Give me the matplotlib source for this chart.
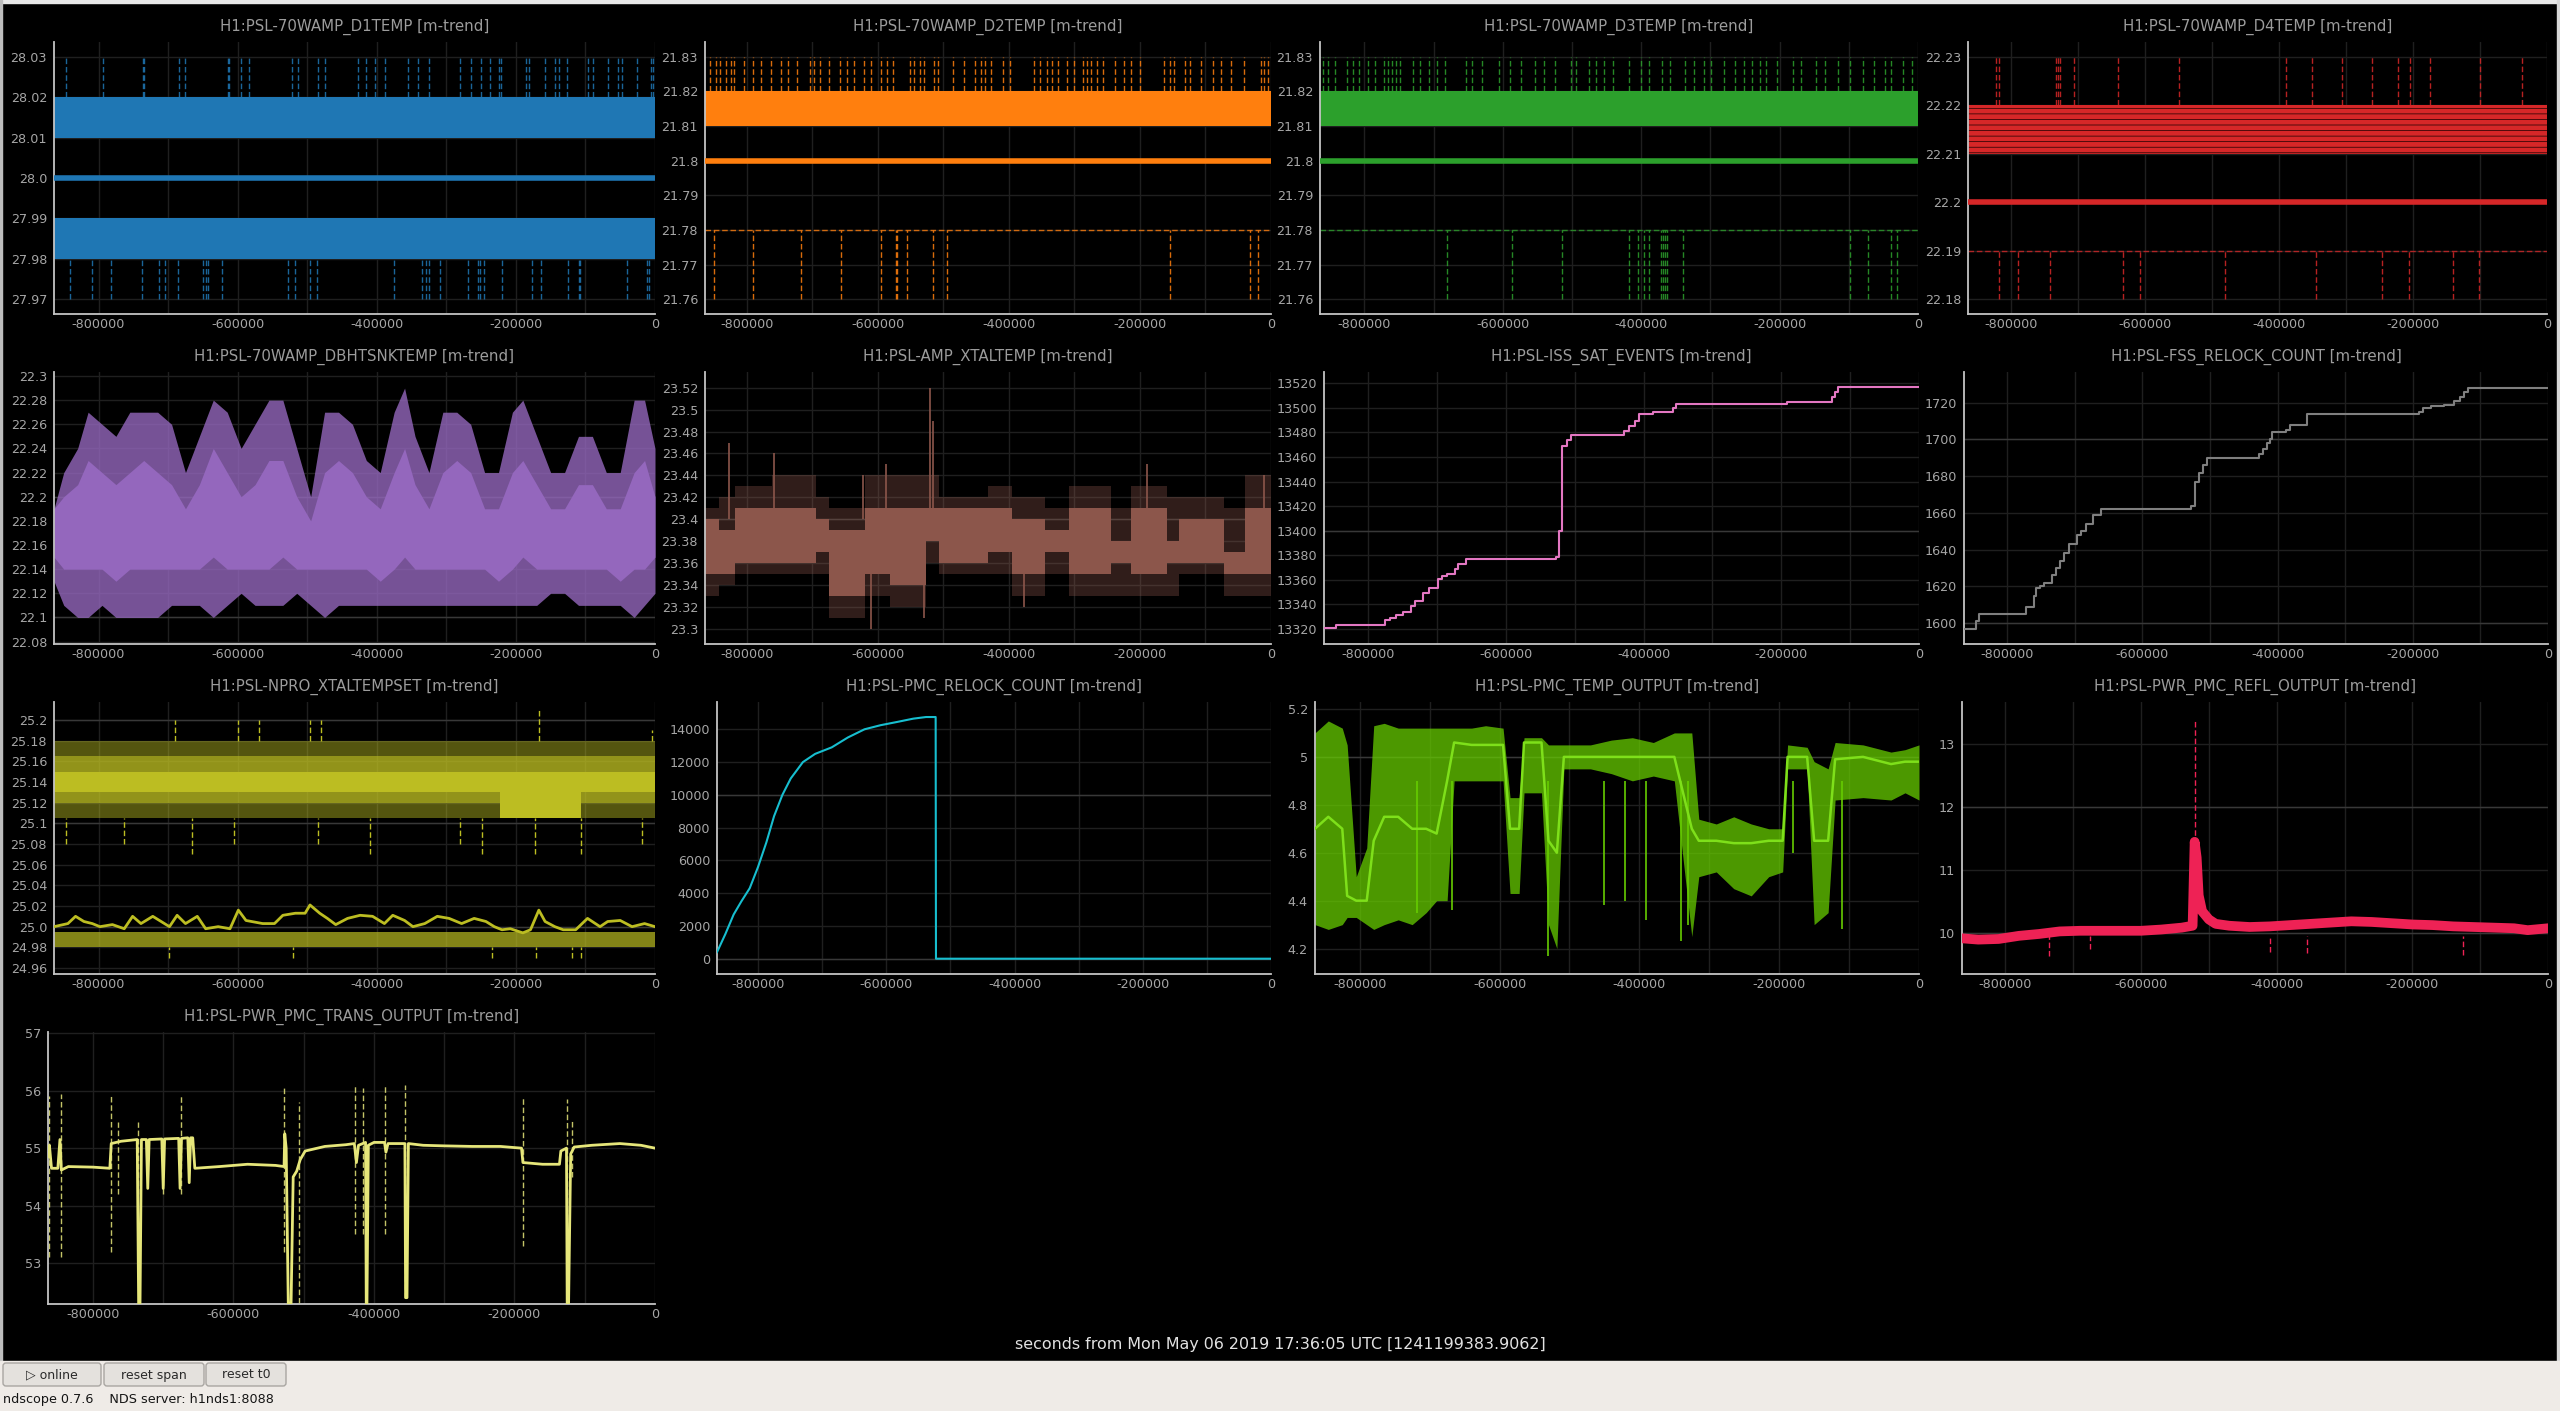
import numpy as np
import matplotlib
matplotlib.use("Agg")
import matplotlib.pyplot as plt
from matplotlib.patches import Rectangle, FancyBboxPatch

W, H = 2560, 1411

# ---- shared time axis (seconds from t0) ----
XLIM = (-864000, 0)
XTICKS = [-800000, -600000, -400000, -200000, 0]
XTICK_LABELS = ["-800000", "-600000", "-400000", "-200000", "0"]
XMINOR = [-700000, -500000, -300000, -100000]
T_ALL = [-864000, 0]

# ---- H1:PSL-70WAMP_D1TEMP ----
D1_MEAN = [28.0, 28.0]
D1_MAX_BAND = ([28.01, 28.01], [28.02, 28.02])
D1_MIN_BAND = ([27.98, 27.98], [27.99, 27.99])
D1_UP_T = [-846800, -794200, -735900, -733900, -684600, -676300, -614100, -612200,
           -594800, -583300, -522400, -513400, -484600, -474300, -426900, -415400,
           -402500, -388400, -355800, -340400, -325600, -280800, -264700, -250000,
           -237200, -224400, -221800, -185900, -181400, -157700, -144200, -138500,
           -126900, -96200, -88500, -67900, -53800, -47400, -25600, -6400, -2600]
D1_DN_T = [-841600, -809600, -781400, -737200, -713400, -705100, -685900, -649300,
           -646100, -642900, -621800, -527500, -517900, -495500, -485900, -375000,
           -335200, -328800, -325600, -309600, -269200, -255100, -251900, -245500,
           -219900, -176900, -163500, -125000, -109000, -107700, -40400, -11500, -8300]

# ---- H1:PSL-70WAMP_D2TEMP ----
D2_MEAN = [21.8, 21.8]
D2_MAX_BAND = ([21.81, 21.81], [21.82, 21.82])
D2_MIN_LEVEL = 21.78
D2_UP_T = [-857000, -847000, -841000, -832000, -825000, -819000, -804000, -791000,
           -779000, -763000, -748000, -738000, -723000, -704000, -698000, -688000,
           -675000, -658000, -648000, -636000, -621000, -611000, -595000, -586000,
           -577000, -551000, -545000, -536000, -530000, -515000, -509000, -486000,
           -468000, -452000, -443000, -437000, -427000, -409000, -399000, -362000,
           -352000, -342000, -335000, -325000, -312000, -300000, -287000, -281000,
           -275000, -265000, -256000, -238000, -225000, -213000, -200000, -163000,
           -154000, -148000, -132000, -123000, -107000, -88000, -76000, -61000,
           -41000, -16000, -11000, -4000]
D2_DN_T = [-850000, -791000, -718000, -656000, -596000, -573000, -571000, -555000,
           -516000, -494000, -154000, -32000, -20000]

# ---- H1:PSL-70WAMP_D3TEMP ----
D3_MEAN = [21.8, 21.8]
D3_MAX_BAND = ([21.81, 21.81], [21.82, 21.82])
D3_MIN_LEVEL = 21.78
D3_UP_T = [-859000, -852000, -843000, -825000, -817000, -807000, -795000, -784000,
           -772000, -766000, -760000, -754000, -748000, -730000, -719000, -707000,
           -695000, -683000, -653000, -644000, -630000, -606000, -589000, -573000,
           -553000, -541000, -524000, -502000, -494000, -476000, -465000, -453000,
           -441000, -417000, -400000, -388000, -370000, -358000, -337000, -323000,
           -309000, -299000, -281000, -264000, -252000, -240000, -228000, -219000,
           -204000, -181000, -169000, -148000, -134000, -116000, -98000, -80000,
           -63000, -48000, -39000, -21000, -9000]
D3_DN_T = [-681000, -586000, -515000, -417000, -405000, -396000, -388000, -372000,
           -369000, -365000, -362000, -340000, -98000, -72000, -39000, -30000]

# ---- H1:PSL-70WAMP_D4TEMP ----
D4_MEAN = [22.2, 22.2]
D4_MAX_BAND = ([22.21, 22.21], [22.22, 22.22])
D4_MIN_LEVEL = 22.19
D4_UP_T = [-822000, -818300, -733000, -729200, -726000, -705300, -640000, -548400,
           -389100, -350100, -306200, -261000, -222100, -203900, -174400, -100400, -37600]
D4_DN_T = [-818300, -788800, -742300, -632500, -606800, -480000, -344500, -246000,
           -205800, -140600, -101000]

# ---- H1:PSL-70WAMP_DBHTSNKTEMP ----
D5_T = [-864000, -850000, -830000, -815000, -795000, -775000, -755000, -735000,
        -715000, -695000, -675000, -655000, -635000, -615000, -595000, -575000,
        -555000, -535000, -515000, -495000, -475000, -455000, -435000, -415000,
        -395000, -375000, -360000, -345000, -325000, -305000, -285000, -265000,
        -245000, -225000, -205000, -190000, -170000, -150000, -130000, -110000,
        -90000, -70000, -50000, -30000, -15000, 0]
D5_MAX = [22.19, 22.22, 22.24, 22.27, 22.26, 22.25, 22.27, 22.27, 22.27, 22.26,
          22.22, 22.25, 22.28, 22.27, 22.24, 22.26, 22.28, 22.28, 22.24, 22.20,
          22.27, 22.27, 22.26, 22.23, 22.22, 22.27, 22.29, 22.25, 22.22, 22.27,
          22.27, 22.26, 22.22, 22.22, 22.27, 22.28, 22.25, 22.22, 22.22, 22.25,
          22.25, 22.22, 22.22, 22.28, 22.28, 22.24]
D5_MIN = [22.13, 22.11, 22.10, 22.10, 22.11, 22.10, 22.10, 22.10, 22.10, 22.11,
          22.11, 22.11, 22.10, 22.11, 22.12, 22.11, 22.11, 22.11, 22.12, 22.11,
          22.10, 22.11, 22.11, 22.11, 22.11, 22.11, 22.11, 22.11, 22.11, 22.11,
          22.11, 22.11, 22.11, 22.11, 22.11, 22.11, 22.11, 22.12, 22.12, 22.11,
          22.11, 22.11, 22.11, 22.10, 22.11, 22.12]
D5_CORE_HI = [22.19, 22.20, 22.21, 22.23, 22.22, 22.21, 22.22, 22.23, 22.22, 22.21,
              22.19, 22.21, 22.24, 22.22, 22.20, 22.21, 22.23, 22.23, 22.20, 22.18,
              22.22, 22.23, 22.22, 22.20, 22.19, 22.22, 22.24, 22.21, 22.19, 22.22,
              22.23, 22.22, 22.19, 22.19, 22.22, 22.23, 22.21, 22.19, 22.19, 22.21,
              22.21, 22.19, 22.19, 22.22, 22.23, 22.20]
D5_CORE_LO = [22.15, 22.14, 22.14, 22.14, 22.14, 22.13, 22.14, 22.14, 22.14, 22.14,
              22.14, 22.14, 22.15, 22.14, 22.14, 22.14, 22.14, 22.15, 22.14, 22.14,
              22.14, 22.14, 22.14, 22.14, 22.13, 22.14, 22.15, 22.14, 22.14, 22.14,
              22.14, 22.14, 22.14, 22.13, 22.14, 22.15, 22.14, 22.14, 22.14, 22.14,
              22.14, 22.14, 22.13, 22.14, 22.14, 22.15]

# ---- H1:PSL-AMP_XTALTEMP ----
D6_T = [-864000, -843000, -818000, -762000, -694000, -675000, -619000, -582000,
        -526000, -507000, -432000, -395000, -345000, -308000, -245000, -214000,
        -158000, -140000, -71000, -40000, 0]
D6_CORE_LO = [23.35, 23.35, 23.36, 23.36, 23.37, 23.33, 23.35, 23.34, 23.38, 23.36,
              23.37, 23.35, 23.37, 23.35, 23.36, 23.35, 23.36, 23.36, 23.35, 23.35, 23.35]
D6_CORE_HI = [23.40, 23.39, 23.41, 23.41, 23.40, 23.39, 23.41, 23.41, 23.41, 23.41,
              23.41, 23.40, 23.39, 23.41, 23.38, 23.41, 23.38, 23.40, 23.37, 23.41, 23.41]
D6_MIN = [23.33, 23.34, 23.35, 23.35, 23.35, 23.31, 23.33, 23.32, 23.36, 23.35,
          23.35, 23.33, 23.35, 23.33, 23.33, 23.33, 23.33, 23.35, 23.33, 23.33, 23.33]
D6_MAX = [23.41, 23.42, 23.43, 23.44, 23.42, 23.41, 23.44, 23.44, 23.44, 23.42,
          23.43, 23.42, 23.41, 23.43, 23.41, 23.43, 23.42, 23.42, 23.41, 23.44, 23.44]
D6_SPIKE_UP_T = [-827000, -759000, -623000, -588000, -520000, -516000, -189000, -10000]
D6_SPIKE_UP_V = [23.47, 23.46, 23.44, 23.45, 23.52, 23.49, 23.45, 23.44]
D6_SPIKE_DN_T = [-610000, -530000, -377000]
D6_SPIKE_DN_V = [23.30, 23.31, 23.32]

# ---- H1:PSL-ISS_SAT_EVENTS ----
D7_T = [-864000, -847000, -776000, -768000, -760000, -750000, -738000, -732000,
        -720000, -712000, -699000, -693000, -685000, -674000, -670000, -658000,
        -527000, -523000, -519000, -511000, -505000, -428000, -421000, -412000,
        -406000, -386000, -357000, -353000, -191000, -127000, -122000, -117000, 0]
D7_V = [13321, 13323, 13327, 13329, 13331, 13334, 13339, 13343, 13349, 13353,
        13361, 13363, 13365, 13369, 13373, 13377, 13379, 13400, 13469, 13474,
        13478, 13481, 13485, 13489, 13495, 13497, 13500, 13503, 13505, 13509,
        13513, 13517, 13517]

# ---- H1:PSL-FSS_RELOCK_COUNT ----
D8_T = [-864000, -846000, -842000, -773000, -761000, -758000, -752000, -746000,
        -734000, -728000, -722000, -716000, -709000, -697000, -691000, -684000,
        -673000, -661000, -528000, -522000, -516000, -510000, -504000, -428000,
        -422000, -416000, -411000, -408000, -387000, -381000, -356000, -191000,
        -185000, -173000, -154000, -139000, -130000, -124000, -118000, 0]
D8_V = [1597, 1601, 1605, 1609, 1615, 1619, 1620, 1622, 1626, 1630, 1634, 1638,
        1643, 1648, 1650, 1654, 1659, 1662, 1664, 1677, 1682, 1686, 1690, 1692,
        1695, 1698, 1700, 1704, 1705, 1708, 1714, 1715, 1717, 1718, 1719, 1721,
        1723, 1726, 1728, 1728]

# ---- H1:PSL-NPRO_XTALTEMPSET ----
D9_OUTER = ([25.105, 25.105], [25.18, 25.18])
D9_MID = ([25.12, 25.12], [25.165, 25.165])
D9_CORE = ([25.13, 25.13], [25.15, 25.15])
D9_BLOCK_T = [-223000, -106000]
D9_BLOCK = ([25.105, 25.105], [25.13, 25.13])
D9_MIN_BAND = ([24.98, 24.98], [24.995, 24.995])
D9_UP_T = [-690000, -599000, -570000, -496000, -480000, -167000, -4000]
D9_UP_V = [25.20, 25.20, 25.20, 25.20, 25.20, 25.21, 25.19]
D9_DN_T = [-847000, -763000, -666000, -605000, -485000, -409000, -280000, -249000,
           -172000, -106000, -18000]
D9_DN_V = [25.08, 25.08, 25.07, 25.08, 25.08, 25.07, 25.08, 25.07, 25.07, 25.07, 25.08]
D9_LOW_DN_T = [-698000, -520000, -235000, -171000, -120000, -106000]
D9_MEAN_T = [-864000, -844000, -833000, -821000, -809000, -798000, -780000, -763000,
             -751000, -739000, -722000, -710000, -698000, -687000, -675000, -658000,
             -646000, -628000, -611000, -599000, -588000, -564000, -547000, -535000,
             -517000, -503000, -496000, -482000, -471000, -459000, -442000, -424000,
             -406000, -389000, -377000, -360000, -348000, -331000, -313000, -296000,
             -278000, -260000, -243000, -231000, -220000, -208000, -190000, -179000,
             -167000, -158000, -144000, -132000, -114000, -97000, -79000, -68000,
             -50000, -33000, -15000, 0]
D9_MEAN = [25.000, 25.003, 25.010, 25.005, 25.003, 25.000, 25.002, 24.998, 25.010,
           25.003, 25.010, 25.005, 25.000, 25.011, 25.003, 25.010, 24.998, 25.000,
           24.998, 25.016, 25.006, 25.003, 25.003, 25.011, 25.013, 25.013, 25.021,
           25.013, 25.008, 25.002, 25.008, 25.011, 25.010, 25.003, 25.011, 25.006,
           25.000, 25.003, 25.010, 25.008, 25.003, 25.008, 25.005, 25.000, 24.997,
           24.998, 24.994, 24.997, 25.016, 25.005, 25.000, 24.997, 24.997, 25.008,
           25.000, 25.005, 25.006, 25.000, 25.003, 25.000]

# ---- H1:PSL-PMC_RELOCK_COUNT ----
D10_T = [-864000, -851000, -838000, -826000, -813000, -800000, -787000, -775000,
         -762000, -749000, -730000, -711000, -685000, -660000, -634000, -609000,
         -583000, -558000, -538000, -523000, -522500, 0]
D10_V = [400, 1500, 2700, 3500, 4300, 5600, 7100, 8700, 10000, 11000, 12000, 12500,
         12900, 13500, 14000, 14250, 14450, 14650, 14750, 14750, 0, 0]

# ---- H1:PSL-PMC_TEMP_OUTPUT ----
D11_T = [-864000, -845000, -825000, -818000, -805000, -790000, -780000, -765000,
         -745000, -725000, -705000, -690000, -675000, -665000, -640000, -620000,
         -595000, -585000, -572000, -565000, -540000, -530000, -518000, -508000,
         -470000, -440000, -410000, -380000, -350000, -325000, -315000, -290000,
         -265000, -240000, -215000, -195000, -188000, -160000, -150000, -130000,
         -120000, -80000, -40000, -20000, 0]
D11_MIN = [4.30, 4.28, 4.30, 4.33, 4.33, 4.30, 4.28, 4.30, 4.32, 4.30, 4.35, 4.40,
           4.40, 4.90, 4.90, 4.90, 4.90, 4.43, 4.43, 4.85, 4.85, 4.30, 4.20, 4.95,
           4.95, 4.93, 4.90, 4.92, 4.90, 4.25, 4.50, 4.52, 4.45, 4.42, 4.50, 4.52,
           4.95, 4.95, 4.30, 4.35, 4.82, 4.83, 4.82, 4.85, 4.82]
D11_MAX = [5.10, 5.15, 5.12, 5.05, 4.50, 4.62, 5.13, 5.14, 5.12, 5.12, 5.12, 5.12,
           5.12, 5.12, 5.12, 5.13, 5.12, 4.83, 4.83, 5.08, 5.08, 5.05, 5.05, 5.05,
           5.05, 5.07, 5.08, 5.06, 5.10, 5.10, 4.74, 4.72, 4.75, 4.72, 4.70, 4.70,
           5.05, 5.04, 4.98, 4.95, 5.06, 5.05, 5.02, 5.03, 5.05]
D11_MEAN = [4.70, 4.75, 4.70, 4.42, 4.40, 4.40, 4.65, 4.75, 4.75, 4.70, 4.70, 4.68,
            4.90, 5.06, 5.05, 5.05, 5.05, 4.70, 4.70, 5.06, 5.06, 4.65, 4.60, 5.00,
            5.00, 5.00, 5.00, 5.00, 5.00, 4.70, 4.65, 4.65, 4.64, 4.64, 4.65, 4.65,
            5.00, 5.00, 4.65, 4.65, 4.99, 5.00, 4.97, 4.98, 4.98]
D11_DIP_T = [-718000, -668000, -530000, -450000, -420000, -390000, -340000, -330000,
             -180000, -110000]
D11_DIP_V = [4.35, 4.36, 4.17, 4.38, 4.40, 4.32, 4.23, 4.30, 4.60, 4.28]

# ---- H1:PSL-PWR_PMC_REFL_OUTPUT ----
D12_T = [-864000, -840000, -810000, -780000, -750000, -720000, -690000, -660000,
         -630000, -600000, -570000, -540000, -524000, -521000, -518000, -515000,
         -510000, -500000, -490000, -470000, -440000, -410000, -380000, -350000,
         -320000, -290000, -260000, -230000, -200000, -170000, -140000, -110000,
         -80000, -50000, -30000, -10000, 0]
D12_V = [9.92, 9.90, 9.91, 9.96, 9.99, 10.03, 10.04, 10.04, 10.04, 10.04, 10.06,
         10.09, 10.12, 11.45, 11.20, 10.60, 10.35, 10.22, 10.15, 10.12, 10.10, 10.11,
         10.13, 10.15, 10.17, 10.19, 10.18, 10.16, 10.14, 10.13, 10.11, 10.10, 10.09,
         10.08, 10.05, 10.07, 10.08]
D12_PEAK_T = -521000
D12_PEAK = (10.1, 13.4)
D12_DN_T = [-735000, -675000, -410000, -355000, -125000]
D12_DN_V = [9.64, 9.75, 9.70, 9.68, 9.65]

# ---- H1:PSL-PWR_PMC_TRANS_OUTPUT ----
D13_T = [-864000, -862000, -859000, -850000, -847000, -845000, -835000, -800000,
         -776000, -774000, -760000, -737000, -735000, -733000, -731000, -724000,
         -722000, -720000, -702000, -700000, -698000, -678000, -676000, -674000,
         -665000, -663000, -661000, -658000, -655000, -620000, -580000, -540000,
         -528000, -527000, -525000, -522000, -518000, -515000, -510000, -505000,
         -498000, -470000, -440000, -428000, -425000, -422000, -412000, -411000,
         -410000, -408000, -400000, -385000, -383000, -380000, -356000, -355000,
         -353000, -351000, -330000, -300000, -260000, -220000, -190000, -188000,
         -160000, -136000, -134000, -126000, -125000, -123000, -120000, -115000,
         -90000, -50000, -20000, 0]
D13_V = [54.85, 55.05, 54.65, 54.65, 55.15, 54.62, 54.68, 54.67, 54.65, 55.08,
         55.12, 55.15, 52.30, 52.30, 55.15, 55.15, 54.30, 55.15, 55.16, 54.30,
         55.16, 55.17, 54.30, 55.17, 55.18, 54.40, 55.18, 55.18, 54.65, 54.68,
         54.72, 54.70, 54.68, 55.25, 55.00, 52.30, 52.30, 54.50, 54.60, 54.80,
         54.95, 55.03, 55.06, 55.08, 54.75, 55.05, 55.10, 52.30, 52.30, 55.05,
         55.10, 55.10, 54.93, 55.08, 55.08, 52.40, 52.40, 55.08, 55.05, 55.04,
         55.03, 55.03, 55.00, 54.75, 54.72, 54.72, 54.95, 55.00, 52.30, 52.30,
         54.90, 55.02, 55.05, 55.08, 55.05, 55.00]
D13_SPIKE_T = [-862000, -845000, -775000, -765000, -736000, -700000, -674000,
               -528000, -507000, -427000, -415000, -385000, -356000, -188000,
               -125000, -118000]
D13_SPIKE_LO = [53.1, 53.1, 53.2, 54.2, 54.2, 54.2, 54.2, 53.2, 52.3, 53.5, 53.5,
                53.5, 52.4, 53.3, 52.3, 54.5]
D13_SPIKE_HI = [55.9, 55.95, 55.95, 55.45, 55.45, 55.2, 55.95, 56.05, 55.8, 56.1,
                56.05, 56.1, 56.1, 55.88, 55.85, 55.5]

TITLES = ["H1:PSL-70WAMP_D1TEMP [m-trend]", "H1:PSL-70WAMP_D2TEMP [m-trend]",
          "H1:PSL-70WAMP_D3TEMP [m-trend]", "H1:PSL-70WAMP_D4TEMP [m-trend]",
          "H1:PSL-70WAMP_DBHTSNKTEMP [m-trend]", "H1:PSL-AMP_XTALTEMP [m-trend]",
          "H1:PSL-ISS_SAT_EVENTS [m-trend]", "H1:PSL-FSS_RELOCK_COUNT [m-trend]",
          "H1:PSL-NPRO_XTALTEMPSET [m-trend]", "H1:PSL-PMC_RELOCK_COUNT [m-trend]",
          "H1:PSL-PMC_TEMP_OUTPUT [m-trend]", "H1:PSL-PWR_PMC_REFL_OUTPUT [m-trend]",
          "H1:PSL-PWR_PMC_TRANS_OUTPUT [m-trend]"]

YTICKS = [
    [27.97, 27.98, 27.99, 28.0, 28.01, 28.02, 28.03],
    [21.76, 21.77, 21.78, 21.79, 21.8, 21.81, 21.82, 21.83],
    [21.76, 21.77, 21.78, 21.79, 21.8, 21.81, 21.82, 21.83],
    [22.18, 22.19, 22.2, 22.21, 22.22, 22.23],
    [22.08, 22.1, 22.12, 22.14, 22.16, 22.18, 22.2, 22.22, 22.24, 22.26, 22.28, 22.3],
    [23.3, 23.32, 23.34, 23.36, 23.38, 23.4, 23.42, 23.44, 23.46, 23.48, 23.5, 23.52],
    [13320, 13340, 13360, 13380, 13400, 13420, 13440, 13460, 13480, 13500, 13520],
    [1600, 1620, 1640, 1660, 1680, 1700, 1720],
    [24.96, 24.98, 25.0, 25.02, 25.04, 25.06, 25.08, 25.1, 25.12, 25.14, 25.16, 25.18, 25.2],
    [0, 2000, 4000, 6000, 8000, 10000, 12000, 14000],
    [4.2, 4.4, 4.6, 4.8, 5.0, 5.2],
    [10, 11, 12, 13],
    [53, 54, 55, 56, 57],
]
YLABELS = [
    ["27.97", "27.98", "27.99", "28.0", "28.01", "28.02", "28.03"],
    ["21.76", "21.77", "21.78", "21.79", "21.8", "21.81", "21.82", "21.83"],
    ["21.76", "21.77", "21.78", "21.79", "21.8", "21.81", "21.82", "21.83"],
    ["22.18", "22.19", "22.2", "22.21", "22.22", "22.23"],
    ["22.08", "22.1", "22.12", "22.14", "22.16", "22.18", "22.2", "22.22", "22.24",
     "22.26", "22.28", "22.3"],
    ["23.3", "23.32", "23.34", "23.36", "23.38", "23.4", "23.42", "23.44", "23.46",
     "23.48", "23.5", "23.52"],
    ["13320", "13340", "13360", "13380", "13400", "13420", "13440", "13460", "13480",
     "13500", "13520"],
    ["1600", "1620", "1640", "1660", "1680", "1700", "1720"],
    ["24.96", "24.98", "25.0", "25.02", "25.04", "25.06", "25.08", "25.1", "25.12",
     "25.14", "25.16", "25.18", "25.2"],
    ["0", "2000", "4000", "6000", "8000", "10000", "12000", "14000"],
    ["4.2", "4.4", "4.6", "4.8", "5", "5.2"],
    ["10", "11", "12", "13"],
    ["53", "54", "55", "56", "57"],
]
YLIMS = [(27.9663, 28.0337), (21.7557, 21.8343), (21.7557, 21.8343), (22.1769, 22.2331),
         (22.078, 22.3033), (23.2863, 23.5343), (13307.8, 13529.2), (1588.7, 1736.7),
         (24.9542, 25.2174), (-934, 15667), (4.094, 5.229), (9.355, 13.666), (52.29, 57.02)]
YMAJOR = [[], [], [], [], [22.1, 22.2], [23.4], [13400], [1600, 1700], [25.0, 25.1, 25.2],
          [0, 10000], [5.0], [10, 12], []]

COLORS = ["#1f77b4", "#ff7f0e", "#2ca02c", "#d62728", "#9467bd", "#8c564b", "#e377c2",
          "#7f7f7f", "#bcbd22", "#17becf", "#66cc00", "#ee2255", "#e6e67a"]

# panel boxes in pixels: left, right, top, bottom
BOXES = [(54, 655, 42, 314), (705, 1271, 42, 314), (1320, 1918, 42, 314), (1968, 2547, 42, 314),
         (54, 655, 372, 644), (705, 1271, 372, 644), (1324, 1919, 372, 644), (1964, 2548, 372, 644),
         (54, 655, 702, 974), (717, 1271, 702, 974), (1315, 1919, 702, 974), (1962, 2548, 702, 974),
         (48, 655, 1032, 1304)]

TICK_C = "#a6a6a6"
TITLE_C = "#9c9c9c"
SPINE_C = "#c4c4c4"
GRID_C = "#1f1f1f"
GRID_MAJOR_C = "#383838"
DASH = (0, (4, 2))

fig = plt.figure(figsize=(W / 100, H / 100), dpi=100)
fig.patch.set_facecolor("black")

# background layer in pixel coordinates (window chrome, titles, toolbar)
bg = fig.add_axes([0, 0, 1, 1], zorder=-10)
bg.set_xlim(0, W)
bg.set_ylim(H, 0)
bg.axis("off")
bg.add_patch(Rectangle((0, 0), W, 3, color="#e8e8e8"))
bg.add_patch(Rectangle((0, 0), 2, 1361, color="#bdbdbd"))
bg.add_patch(Rectangle((W - 3, 0), 3, 1361, color="#d8d8d8"))
bg.add_patch(Rectangle((0, 1361), W, 50, color="#efebe7"))
for (bx, bw, label) in [(3, 98, "\u25b7 online"), (104, 100, "reset span"), (206, 80, "reset t0")]:
    bg.add_patch(FancyBboxPatch((bx, 1363), bw, 23, boxstyle="round,pad=0,rounding_size=3",
                                fc="#e4e1dd", ec="#a9a6a2", lw=1))
    bg.text(bx + bw / 2, 1375, label, ha="center", va="center", fontsize=9, color="#2a2a2a")
bg.text(3, 1400, "ndscope 0.7.6    NDS server: h1nds1:8088", ha="left", va="center",
        fontsize=9.2, color="#151515")
bg.text(W / 2, 1345, "seconds from Mon May 06 2019 17:36:05 UTC [1241199383.9062]",
        ha="center", va="center", fontsize=11.4, color="#e2e2e2")

axes = []
for i, (l, r, t, b) in enumerate(BOXES):
    ax = fig.add_axes([l / W, 1 - b / H, (r - l) / W, (b - t) / H])
    ax.set_facecolor("black")
    ax.set_xlim(XLIM)
    ax.set_ylim(YLIMS[i])
    ax.set_xticks(XTICKS)
    ax.set_xticklabels(XTICK_LABELS)
    ax.set_xticks(XMINOR, minor=True)
    ax.set_yticks(YTICKS[i])
    ax.set_yticklabels(YLABELS[i])
    ax.tick_params(axis="both", which="both", length=0, labelcolor=TICK_C, labelsize=9.2)
    ax.tick_params(axis="y", pad=5)
    ax.tick_params(axis="x", pad=3)
    ax.grid(True, which="both", axis="x", color=GRID_C, lw=1)
    ax.grid(True, which="major", axis="y", color=GRID_C, lw=1)
    for v in YMAJOR[i]:
        ax.axhline(v, color=GRID_MAJOR_C, lw=1, zorder=0.8)
    ax.set_axisbelow(True)
    for s in ("top", "right"):
        ax.spines[s].set_visible(False)
    for s in ("left", "bottom"):
        ax.spines[s].set_color(SPINE_C)
        ax.spines[s].set_linewidth(1.3)
    bg.text((l + r) / 2, t - 15, TITLES[i], ha="center", va="center", fontsize=10.8,
            color=TITLE_C)
    axes.append(ax)


def quant_panel(ax, color, mean, band, up_t, up_lo, up_hi, dn_t, dn_lo, dn_hi,
                min_band=None, min_level=None, hatch=None):
    if hatch:
        ax.fill_between(T_ALL, band[0], band[1], facecolor=color, edgecolor="#1a0000",
                        hatch=hatch, lw=0, zorder=2)
    else:
        ax.fill_between(T_ALL, band[0], band[1], color=color, lw=0, zorder=2)
    if min_band is not None:
        ax.fill_between(T_ALL, min_band[0], min_band[1], color=color, lw=0, zorder=2)
    if min_level is not None:
        ax.hlines(min_level, XLIM[0], XLIM[1], color=color, lw=1, linestyles=DASH,
                  alpha=0.8, zorder=2)
    ax.vlines(up_t, up_lo, up_hi, color=color, lw=1, linestyles=DASH, alpha=0.85, zorder=2)
    ax.vlines(dn_t, dn_lo, dn_hi, color=color, lw=1, linestyles=DASH, alpha=0.85, zorder=2)
    ax.plot(T_ALL, mean, color=color, lw=4, solid_capstyle="butt", zorder=3)


quant_panel(axes[0], COLORS[0], D1_MEAN, D1_MAX_BAND, D1_UP_T, 28.02, 28.03,
            D1_DN_T, 27.97, 27.98, min_band=D1_MIN_BAND)
quant_panel(axes[1], COLORS[1], D2_MEAN, D2_MAX_BAND, D2_UP_T, 21.82, 21.83,
            D2_DN_T, 21.76, 21.78, min_level=D2_MIN_LEVEL)
quant_panel(axes[2], COLORS[2], D3_MEAN, D3_MAX_BAND, D3_UP_T, 21.82, 21.83,
            D3_DN_T, 21.76, 21.78, min_level=D3_MIN_LEVEL)
plt.rcParams["hatch.linewidth"] = 0.5
quant_panel(axes[3], COLORS[3], D4_MEAN, D4_MAX_BAND, D4_UP_T, 22.22, 22.23,
            D4_DN_T, 22.18, 22.19, min_level=D4_MIN_LEVEL, hatch="---")

# heatsink temperature
ax = axes[4]
ax.fill_between(D5_T, D5_MIN, D5_MAX, color=COLORS[4], alpha=0.8, lw=0, zorder=2)
ax.fill_between(D5_T, D5_CORE_LO, D5_CORE_HI, color=COLORS[4], lw=0, zorder=2)

# amplifier crystal temperature
ax = axes[5]
ax.fill_between(D6_T, D6_MIN, D6_MAX, step="post", color=COLORS[5], alpha=0.35, lw=0, zorder=2)
ax.fill_between(D6_T, D6_CORE_LO, D6_CORE_HI, step="post", color=COLORS[5], lw=0, zorder=2)
ax.vlines(D6_SPIKE_UP_T, 23.40, D6_SPIKE_UP_V, color=COLORS[5], lw=1.2, zorder=2)
ax.vlines(D6_SPIKE_DN_T, D6_SPIKE_DN_V, 23.36, color=COLORS[5], lw=1.2, zorder=2)

# counters
axes[6].step(D7_T, D7_V, where="post", color=COLORS[6], lw=1.5, zorder=3)
axes[7].step(D8_T, D8_V, where="post", color=COLORS[7], lw=1.5, zorder=3)

# NPRO crystal temperature setpoint
ax = axes[8]
ax.fill_between(T_ALL, D9_OUTER[0], D9_OUTER[1], color=COLORS[8], alpha=0.45, lw=0, zorder=2)
ax.fill_between(T_ALL, D9_MID[0], D9_MID[1], color=COLORS[8], alpha=0.6, lw=0, zorder=2)
ax.fill_between(T_ALL, D9_CORE[0], D9_CORE[1], color=COLORS[8], lw=0, zorder=2)
ax.fill_between(D9_BLOCK_T, D9_BLOCK[0], D9_BLOCK[1], color=COLORS[8], lw=0, zorder=2)
ax.vlines(D9_UP_T, 25.18, D9_UP_V, color=COLORS[8], lw=1, linestyles=DASH, zorder=2)
ax.vlines(D9_DN_T, D9_DN_V, 25.105, color=COLORS[8], lw=1, linestyles=DASH, zorder=2)
ax.vlines(D9_LOW_DN_T, 24.97, 24.98, color=COLORS[8], lw=1, linestyles=DASH, zorder=2)
ax.fill_between(T_ALL, D9_MIN_BAND[0], D9_MIN_BAND[1], color=COLORS[8], alpha=0.7, lw=0, zorder=2)
ax.plot(D9_MEAN_T, D9_MEAN, color=COLORS[8], lw=2, zorder=3)

# PMC relock count
axes[9].plot(D10_T, D10_V, color=COLORS[9], lw=1.5, zorder=3)

# PMC temperature output
ax = axes[10]
ax.fill_between(D11_T, D11_MIN, D11_MAX, color=COLORS[10], alpha=0.75, lw=0, zorder=2)
ax.vlines(D11_DIP_T, D11_DIP_V, 4.9, color=COLORS[10], lw=1.2, zorder=2)
ax.plot(D11_T, D11_MEAN, color="#7ee01a", lw=1.8, zorder=3)

# PMC reflected power
ax = axes[11]
ax.vlines(D12_PEAK_T, D12_PEAK[0], D12_PEAK[1], color=COLORS[11], lw=1, linestyles=DASH, zorder=2)
ax.vlines(D12_DN_T, D12_DN_V, 9.95, color=COLORS[11], lw=1, linestyles=DASH, zorder=2)
ax.plot(D12_T, D12_V, color=COLORS[11], lw=7, zorder=3)

# PMC transmitted power
ax = axes[12]
ax.vlines(D13_SPIKE_T, D13_SPIKE_LO, D13_SPIKE_HI, color=COLORS[12], lw=1,
          linestyles=DASH, alpha=0.85, zorder=2)
ax.plot(D13_T, D13_V, color=COLORS[12], lw=2, zorder=3)

fig.savefig("out.png", dpi=100, facecolor=fig.get_facecolor())
